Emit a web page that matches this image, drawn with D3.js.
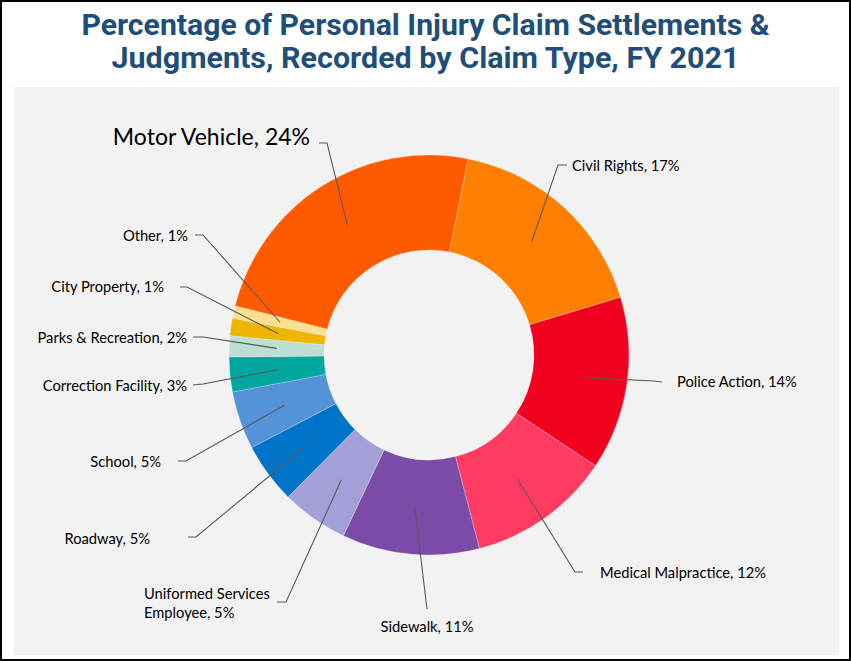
<!DOCTYPE html>
<html>
<head>
<meta charset="utf-8">
<script src="https://cdn.jsdelivr.net/npm/d3@7/dist/d3.min.js"></script>
<style>
  body { margin: 0; background: #ffffff; }
</style>
</head>
<body>
<div id="chart"></div>
<script>
// claim types, clockwise starting at the left edge of Motor Vehicle
const categories = ["Motor Vehicle", "Civil Rights", "Police Action", "Medical Malpractice", "Sidewalk",
    "Uniformed Services Employee", "Roadway", "School", "Correction Facility", "Parks & Recreation",
    "City Property", "Other"];
const shares = [24.2, 17.2, 14.0, 11.6, 11.1, 5.4, 4.9, 4.7, 2.8, 1.7, 1.4, 1.0];
const sliceColors = ["#ff5a00", "#ff7f00", "#f0001e", "#ff3b62", "#7b4ba8", "#a3a0d7",
    "#0074c8", "#5593d8", "#00a79f", "#bcdfd3", "#edb500", "#fde08f"];
const titleLines = ["Percentage of Personal Injury Claim Settlements &",
    "Judgments, Recorded by Claim Type, FY 2021"];

// where each data label sits, relative to the donut centre (elbow, tick end, text anchor)
const labelLayout = [
    { elbow: [-102, -212], tick: [-110, -212], text: [-119, -210], anchor: "end", size: 23 },
    { elbow: [129, -190], tick: [138, -190], text: [143, -184], anchor: "start" },
    { elbow: [225, 26], tick: [233, 27], text: [248, 32], anchor: "start" },
    { elbow: [146, 217], tick: [154, 217], text: [171, 223], anchor: "start" },
    { elbow: [-2, 254], tick: [-2, 254], text: [-2, 277], anchor: "middle" },
    { elbow: [-143, 247], tick: [-152, 247], text: [-285, 244], anchor: "start", wrap: true },
    { elbow: [-233, 182], tick: [-241, 182], text: [-279, 189], anchor: "end" },
    { elbow: [-243, 106], tick: [-251, 106], text: [-268, 112], anchor: "end" },
    { elbow: [-226, 29], tick: [-236, 30], text: [-242, 36], anchor: "end" },
    { elbow: [-226, -18], tick: [-236, -18], text: [-242, -12], anchor: "end" },
    { elbow: [-242, -68], tick: [-249, -68], text: [-265, -63], anchor: "end" },
    { elbow: [-226, -120], tick: [-234, -120], text: [-241, -114], anchor: "end" }
];

const width = 851, height = 661;
const cx = 429, cy = 355;
const outerR = 200, innerR = 105;
const labelFont = "Lato, 'Open Sans', sans-serif";

const svg = d3.select("#chart").append("svg")
    .attr("width", width)
    .attr("height", height);

// frame and grey plot panel
svg.append("rect")
    .attr("x", 1).attr("y", 1)
    .attr("width", width - 2).attr("height", height - 2)
    .attr("fill", "#ffffff")
    .attr("stroke", "#000000")
    .attr("stroke-width", 2);

svg.append("rect")
    .attr("x", 14).attr("y", 87)
    .attr("width", 825).attr("height", 568)
    .attr("fill", "#f2f2f2");

// title
svg.selectAll("text.title")
    .data(titleLines)
    .enter().append("text")
    .attr("class", "title")
    .attr("x", width / 2)
    .attr("y", (d, i) => 35 + i * 33)
    .attr("text-anchor", "middle")
    .attr("textLength", (d, i) => i === 0 ? 688 : 628)
    .attr("lengthAdjust", "spacingAndGlyphs")
    .style("font-family", "Roboto, 'Open Sans', sans-serif")
    .style("font-weight", "bold")
    .style("font-size", "29px")
    .style("fill", "#1f4e79")
    .text(d => d);

const startA = -75.8 * Math.PI / 180;
const pie = d3.pie()
    .sort(null)
    .startAngle(startA)
    .endAngle(startA + 2 * Math.PI);

const arc = d3.arc()
    .innerRadius(innerR)
    .outerRadius(outerR);

const slices = pie(shares);

const g = svg.append("g")
    .attr("transform", "translate(" + cx + "," + cy + ")");

g.selectAll("path.slice")
    .data(slices)
    .enter().append("path")
    .attr("class", "slice")
    .attr("d", arc)
    .attr("fill", (d, i) => sliceColors[i])
    .attr("stroke", "#ffffff")
    .attr("stroke-opacity", 0.35)
    .attr("stroke-width", 0.7);

// leader lines: slice centroid -> elbow -> short tick
const line = d3.line();
g.selectAll("path.leader")
    .data(slices)
    .enter().append("path")
    .attr("class", "leader")
    .attr("d", (d, i) => line([arc.centroid(d), labelLayout[i].elbow, labelLayout[i].tick]))
    .attr("fill", "none")
    .attr("stroke", "#595959")
    .attr("stroke-width", 1.1);

slices.forEach((d, i) => {
    const lay = labelLayout[i];
    const label = categories[i] + ", " + Math.round(shares[i]) + "%";
    const t = g.append("text")
        .attr("x", lay.text[0])
        .attr("y", lay.text[1])
        .attr("text-anchor", lay.anchor)
        .style("font-family", labelFont)
        .style("font-size", (lay.size || 14.7) + "px")
        .style("fill", "#000000");
    if (lay.wrap) {
        // two-line label, broken after the second word
        const words = label.split(" ");
        t.append("tspan").attr("x", lay.text[0]).text(words.slice(0, 2).join(" "));
        t.append("tspan").attr("x", lay.text[0]).attr("dy", 19).text(words.slice(2).join(" "));
    } else {
        t.text(label);
    }
});
</script>
</body>
</html>
